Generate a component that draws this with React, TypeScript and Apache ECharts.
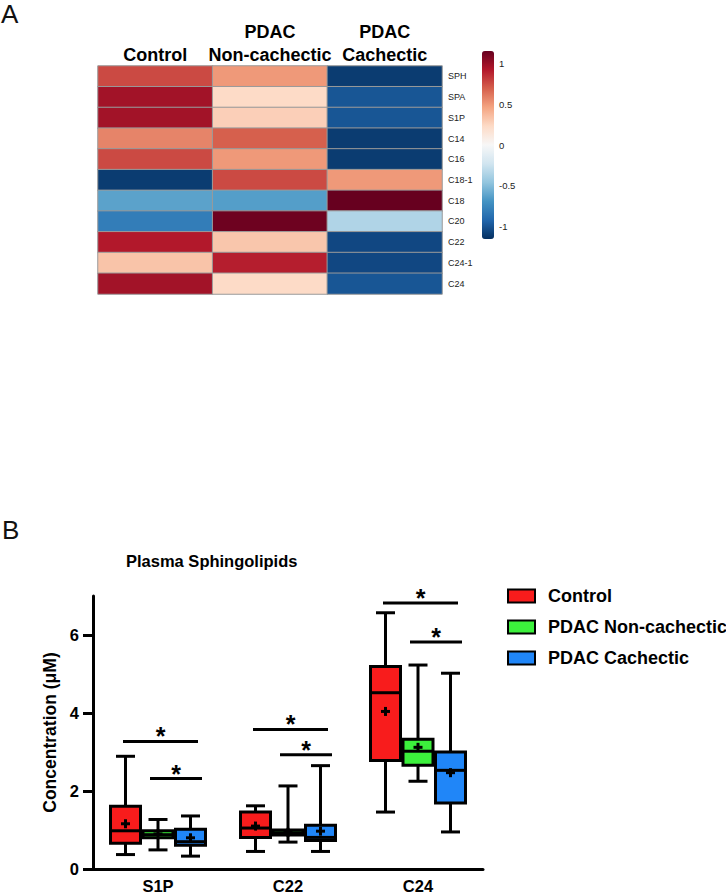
import React, { useEffect, useRef } from "react";
import * as echarts from "echarts";

// ---------- Panel A: heatmap ----------
const heatCols = ["Control", "PDAC\nNon-cachectic", "PDAC\nCachectic"];
const heatRows = ["SPH", "SPA", "S1P", "C14", "C16", "C18-1", "C18", "C20", "C22", "C24-1", "C24"];
const controlZ = [0.76, 0.97, 0.97, 0.57, 0.76, -1.1, -0.62, -0.8, 0.92, 0.33, 0.97];
const nonCachZ = [0.5, 0.23, 0.28, 0.69, 0.5, 0.76, -0.64, 1.13, 0.32, 0.9, 0.23];
const cachZ = [-1.1, -0.99, -0.99, -1.1, -1.1, 0.5, 1.15, -0.35, -1.05, -1.05, -0.99];
const colorbarTicks = [-1, -0.5, 0, 0.5, 1];
const colorRange = [-1.15, 1.15];

// ---------- Panel B: box plots ----------
const lipids = ["S1P", "C22", "C24"];
const groups = ["Control", "PDAC Non-cachectic", "PDAC Cachectic"];
// [min, q1, median, q3, max, mean]
const controlBox = [
  [0.37, 0.66, 0.98, 1.61, 2.89, 1.16],
  [0.45, 0.81, 1.05, 1.46, 1.62, 1.1],
  [1.46, 2.78, 4.52, 5.19, 6.57, 4.04],
];
const nonCachBox = [
  [0.49, 0.8, 0.88, 0.98, 1.27, 0.9],
  [0.69, 0.87, 0.93, 1.0, 2.13, 0.94],
  [2.25, 2.66, 3.02, 3.33, 5.23, 3.12],
];
const cachBox = [
  [0.33, 0.61, 0.7, 1.02, 1.36, 0.8],
  [0.45, 0.73, 0.81, 1.12, 2.65, 0.97],
  [0.95, 1.69, 2.53, 3.0, 5.02, 2.47],
];
const sigLong = [3.27, 3.58, 6.82];
const sigShort = [2.32, 2.93, 5.82];
const yTicks = [0, 2, 4, 6];

const RDBU = ["#053061", "#2166ac", "#4393c3", "#92c5de", "#d1e5f0", "#f7f7f7", "#fddbc7", "#f4a582", "#d6604d", "#b2182b", "#67001f"];
const groupColors = ["#f81c1c", "#3cf03c", "#2086f8"];
const SANS = '"Liberation Sans", Arial, Helvetica, sans-serif';

function boxSeries(name: string, color: string, boxes: number[][], offset: number) {
  return {
    type: "custom",
    name,
    xAxisIndex: 1,
    yAxisIndex: 1,
    data: boxes.map((b, i) => [i, ...b]),
    encode: { x: 0, y: [1, 2, 3, 4, 5, 6] },
    itemStyle: { color },
    renderItem: (params: any, api: any) => {
      const cx = api.coord([api.value(0), 0])[0] + offset;
      const yy = (k: number) => api.coord([api.value(0), api.value(k)])[1];
      const yMin = yy(1), yQ1 = yy(2), yMed = yy(3), yQ3 = yy(4), yMax = yy(5), yMean = yy(6);
      const hw = 15, cw = 9.5;
      const ls = { stroke: "#000", lineWidth: 3 };
      return {
        type: "group",
        children: [
          { type: "line", shape: { x1: cx, y1: yMax, x2: cx, y2: yQ3 }, style: ls },
          { type: "line", shape: { x1: cx, y1: yQ1, x2: cx, y2: yMin }, style: ls },
          { type: "line", shape: { x1: cx - cw, y1: yMax, x2: cx + cw, y2: yMax }, style: ls },
          { type: "line", shape: { x1: cx - cw, y1: yMin, x2: cx + cw, y2: yMin }, style: ls },
          { type: "rect", shape: { x: cx - hw, y: yQ3, width: 2 * hw, height: yQ1 - yQ3 }, style: { fill: color, stroke: "#000", lineWidth: 3 } },
          { type: "line", shape: { x1: cx - hw, y1: yMed, x2: cx + hw, y2: yMed }, style: ls },
          { type: "line", shape: { x1: cx - 4.5, y1: yMean, x2: cx + 4.5, y2: yMean }, style: { stroke: "#000", lineWidth: 3 } },
          { type: "line", shape: { x1: cx, y1: yMean - 4.5, x2: cx, y2: yMean + 4.5 }, style: { stroke: "#000", lineWidth: 3 } },
        ],
      };
    },
  };
}

export default function App() {
  const ref = useRef<HTMLDivElement>(null);
  useEffect(() => {
    if (!ref.current) return;
    const chart = echarts.init(ref.current, undefined, { renderer: "svg" });

    const heatData: number[][] = [];
    heatRows.forEach((_, r) => {
      heatData.push([0, r, controlZ[r]]);
      heatData.push([1, r, nonCachZ[r]]);
      heatData.push([2, r, cachZ[r]]);
    });

    const option: any = {
      animation: false,
      backgroundColor: "#fff",
      title: [
        { text: "A", left: 1, top: 1, padding: 0, textStyle: { fontSize: 26, fontWeight: "normal", fontFamily: SANS, color: "#111" } },
        { text: "B", left: 2, top: 517, padding: 0, textStyle: { fontSize: 26, fontWeight: "normal", fontFamily: SANS, color: "#111" } },
        { text: "Plasma Sphingolipids", left: 126, top: 552, padding: 0, textStyle: { fontSize: 16.5, fontWeight: "bold", fontFamily: SANS, color: "#000" } },
      ],
      grid: [
        { left: 98, top: 66, width: 344, height: 228 },
        { left: 93, top: 596, width: 390, height: 278 },
        { left: 482, top: 51, width: 12, height: 188 },
      ],
      xAxis: [
        {
          gridIndex: 0, type: "category", data: heatCols, position: "top",
          axisLine: { show: false }, axisTick: { show: false }, splitLine: { show: false },
          axisLabel: { interval: 0, fontSize: 18, fontWeight: "bold", fontFamily: SANS, color: "#000", lineHeight: 23, margin: 0 },
        },
        {
          gridIndex: 1, type: "category", data: lipids,
          axisLine: { lineStyle: { color: "#000", width: 3 } }, axisTick: { show: false },
          axisLabel: { interval: 0, fontSize: 16.5, fontWeight: "bold", fontFamily: SANS, color: "#000", margin: 8 },
        },
        { gridIndex: 2, type: "value", min: 0, max: 1, show: false },
      ],
      yAxis: [
        {
          gridIndex: 0, type: "category", data: heatRows, inverse: true, position: "right",
          axisLine: { show: false }, axisTick: { show: false }, splitLine: { show: false },
          axisLabel: { interval: 0, fontSize: 9, fontFamily: SANS, color: "#222", margin: 6 },
        },
        {
          gridIndex: 1, type: "value", min: 0, max: 7,
          name: "Concentration (\u03bcM)", nameLocation: "middle", nameGap: 32,
          nameTextStyle: { fontSize: 17.5, fontWeight: "bold", fontFamily: SANS, color: "#000" },
          axisLine: { show: true, lineStyle: { color: "#000", width: 3 } },
          axisTick: { show: true, length: 10, lineStyle: { color: "#000", width: 3 }, customValues: yTicks },
          axisLabel: { fontSize: 16.5, fontWeight: "bold", fontFamily: SANS, color: "#000", margin: 14, customValues: yTicks },
          splitLine: { show: false },
        },
        {
          gridIndex: 2, type: "value", min: colorRange[0], max: colorRange[1], position: "right",
          axisLine: { show: false }, axisTick: { show: false }, splitLine: { show: false },
          axisLabel: { fontSize: 9.5, fontFamily: SANS, color: "#222", margin: 5, customValues: colorbarTicks },
        },
      ],
      visualMap: {
        type: "continuous", min: colorRange[0], max: colorRange[1], seriesIndex: 0,
        left: 482, top: 51, itemWidth: 12, itemHeight: 188, padding: 0,
        calculable: false, text: null, showLabel: false,
        inRange: { color: RDBU },
      },
      legend: {
        orient: "vertical", left: 507, top: 587, padding: 0,
        itemWidth: 27, itemHeight: 13, itemGap: 13,
        textStyle: { fontSize: 18, fontWeight: "bold", fontFamily: SANS, color: "#000", padding: [0, 0, 0, 8] },
        data: groups.map((g, i) => ({ name: g, icon: "rect", itemStyle: { color: groupColors[i], borderColor: "#000", borderWidth: 2 } })),
      },
      series: [
        {
          type: "heatmap", xAxisIndex: 0, yAxisIndex: 0, data: heatData,
          itemStyle: { borderColor: "#9a9a9a", borderWidth: 1 },
          emphasis: { disabled: true },
        },
        boxSeries(groups[0], groupColors[0], controlBox, -32.5),
        boxSeries(groups[1], groupColors[1], nonCachBox, 0),
        boxSeries(groups[2], groupColors[2], cachBox, 32.5),
        {
          type: "custom", name: "sig", xAxisIndex: 1, yAxisIndex: 1,
          data: lipids.map((_, i) => [i, sigLong[i], sigShort[i]]),
          encode: { x: 0, y: [1, 2] },
          renderItem: (params: any, api: any) => {
            const cx = api.coord([api.value(0), 0])[0];
            const yL = api.coord([api.value(0), api.value(1)])[1];
            const yS = api.coord([api.value(0), api.value(2)])[1];
            const ls = { stroke: "#000", lineWidth: 3 };
            const star = (x: number, y: number) => ({
              type: "text", x, y: y - 5,
              style: { text: "*", fontSize: 25, fontWeight: "bold", fontFamily: SANS, fill: "#000", align: "center", verticalAlign: "middle" },
            });
            const l1 = cx - 35, l2 = cx + 40, s1 = cx - 8, s2 = cx + 44;
            return {
              type: "group",
              children: [
                { type: "line", shape: { x1: l1, y1: yL, x2: l2, y2: yL }, style: ls },
                star((l1 + l2) / 2, yL),
                { type: "line", shape: { x1: s1, y1: yS, x2: s2, y2: yS }, style: ls },
                star((s1 + s2) / 2, yS),
              ],
            };
          },
        },
      ],
    };
    chart.setOption(option);
    return () => chart.dispose();
  }, []);
  return <div ref={ref} style={{ position: "fixed", left: 0, top: 0, width: 726, height: 894, background: "#fff" }} />;
}
